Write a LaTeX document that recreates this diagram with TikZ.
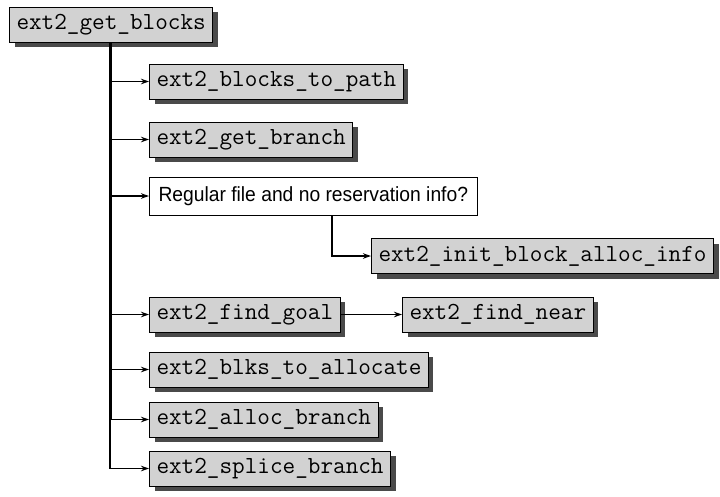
\documentclass[tikz,border=0pt]{standalone}
\usepackage{fontspec}
\setmainfont{Liberation Sans}
\newfontfamily\narrowsans[FakeStretch=0.94]{Liberation Sans}
\usetikzlibrary{arrows.meta,shadows}

\definecolor{boxgray}{HTML}{D2D2D2}
\definecolor{shadegray}{HTML}{4A4A4A}

\tikzset{
  fnbox/.style={draw=black, line width=1pt, fill=boxgray, anchor=west, inner xsep=7pt, minimum height=35pt,
    font=\ttfamily\fontsize{24.5}{24.5}\selectfont,
    drop shadow={shadow xshift=5pt, shadow yshift=-5pt, fill=shadegray, opacity=1}},
  testbox/.style={draw=black, line width=1pt, fill=white, anchor=west, inner xsep=9pt, minimum height=38pt,
    font=\narrowsans\fontsize{20.5}{20.5}\selectfont},
  link/.style={-{Stealth[length=8pt,width=5.5pt]}, line width=1.3pt},
}

\begin{document}
\begin{tikzpicture}[x=1pt, y=-1pt]
    \useasboundingbox (0,0) rectangle (720,496);
    \node[fnbox] (getblocks) at (9,24.5) {ext2\_get\_blocks};
    \node[fnbox] (topath) at (149,81.5) {ext2\_blocks\_to\_path};
    \node[fnbox] (getbranch) at (149,139.5) {ext2\_get\_branch};
    \node[testbox] (regular) at (149,196) {Regular file and no reservation info?};
    \node[fnbox] (initinfo) at (371,256) {ext2\_init\_block\_alloc\_info};
    \node[fnbox] (findgoal) at (149,314.5) {ext2\_find\_goal};
    \node[fnbox] (findnear) at (402,314.5) {ext2\_find\_near};
    \node[fnbox] (toalloc) at (149,369.5) {ext2\_blks\_to\_allocate};
    \node[fnbox] (allocbranch) at (149,419.5) {ext2\_alloc\_branch};
    \node[fnbox] (splice) at (149,468.5) {ext2\_splice\_branch};
    % trunk and its branches
    \coordinate (trunk) at (110,0);
    \coordinate (drop) at (332,0);
    \draw[line width=3pt] (trunk |- getblocks.south) -- (trunk |- allocbranch.west);
    \draw[link] (trunk |- allocbranch.west) -- (trunk |- splice.west) -- (splice.west);
    \draw[link] (trunk |- topath.west) -- (topath.west);
    \draw[link] (trunk |- getbranch.west) -- (getbranch.west);
    \draw[link] (trunk |- regular.west) -- (regular.west);
    \draw[link] (trunk |- findgoal.west) -- (findgoal.west);
    \draw[link] (trunk |- toalloc.west) -- (toalloc.west);
    \draw[link] (trunk |- allocbranch.west) -- (allocbranch.west);
    \draw[link] (findgoal.east) -- (findnear.west);
    \draw[link] (regular.south -| drop) |- (initinfo.west);
  \end{tikzpicture}
\end{document}
